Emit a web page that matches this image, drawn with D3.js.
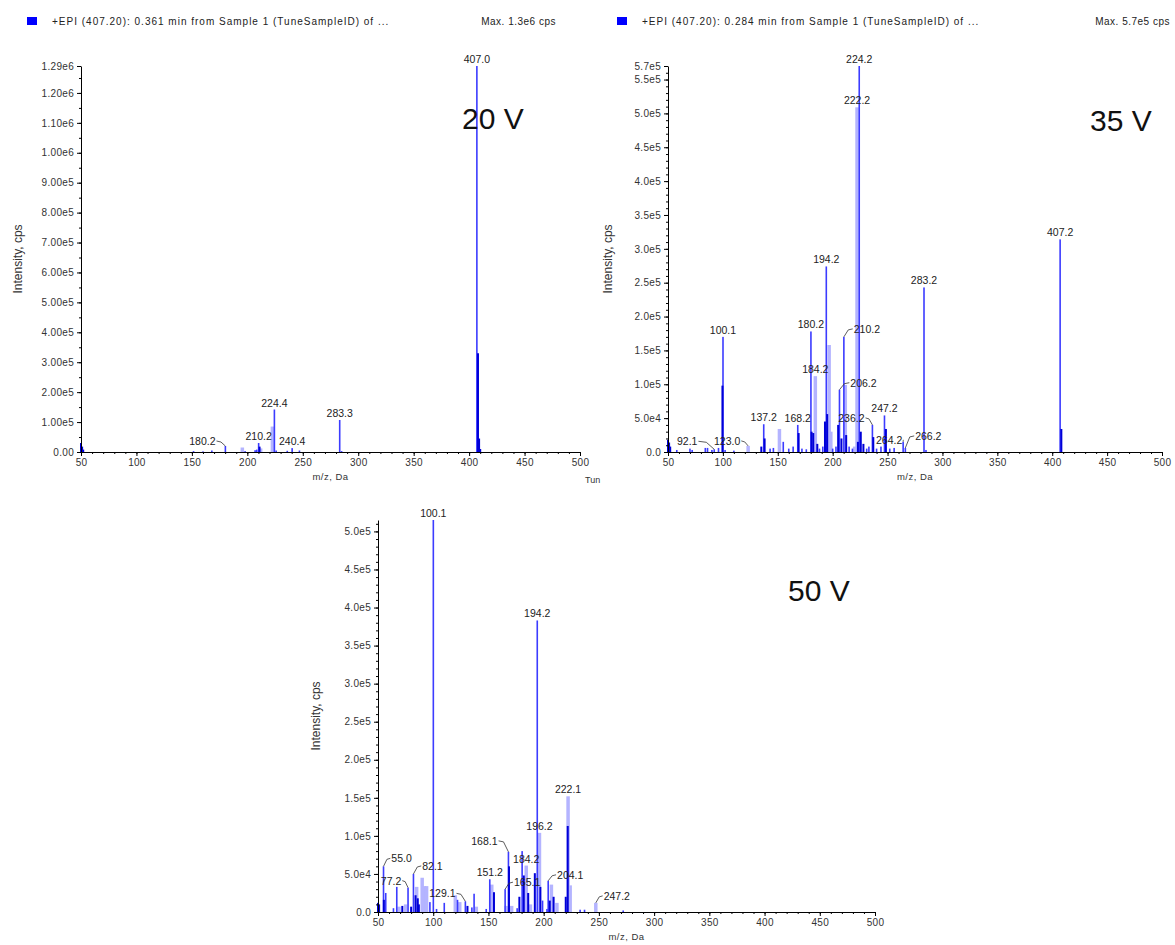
<!DOCTYPE html>
<html>
<head>
<meta charset="utf-8">
<script src="https://cdn.jsdelivr.net/npm/d3@7"></script>
<style>
  body { margin: 0; background: #fff; }
  svg text { font-family: "Liberation Sans", Arial, sans-serif; }
</style>
</head>
<body>
<svg id="chart" width="1175" height="945"></svg>
<script>
// ---- 20 V spectrum: [m/z, intensity]
let peaks20 = [[151.5,3000],[160,2000],[168,5000],[180.2,20000],[198,3000],[207,6000],[208.5,8000],[210.2,30000],
    [224.4,142000],[226,5000],[236,4000],[240.4,13000],[247,5000],[283.3,107000],[285,3000],[407.0,1290000]];
let light20 = [[195.5,15000],[212,12000],[222.6,85000]];
let dark20 = [[50,30000],[51,18000],[52,8000],[211,18000],[408,330000],[409,45000],[410,10000]];
let labels20 = ['407.0','224.4','283.3','210.2','180.2','240.4'];
let yTicks20 = [0,1e5,2e5,3e5,4e5,5e5,6e5,7e5,8e5,9e5,1e6,1.1e6,1.2e6,1.29e6];

// ---- 35 V spectrum
let peaks35 = [[58,3000],[70,5000],[72,3000],[84,6000],[86,6000],[90,3000],[92.1,4000],[96,6000],[100.1,170000],
    [102,3000],[110,2000],[137.2,41000],[143,5000],[146,6000],[155,15000],[160,5000],[164,8000],[168.2,40000],
    [172,5000],[176,4000],[180.2,178000],[188,5000],[191,8000],[194.2,274000],[200,5000],[203,8000],[206.2,92000],
    [210.2,170000],[215,8000],[218,5000],[224.2,570000],[231,5000],[233,8000],[236.2,40000],[240,5000],[244,8000],
    [247.2,54000],[252,5000],[256,6000],[264.2,15000],[266.2,6000],[283.2,243000],[285,3000],[407.2,314000]];
let light35 = [[123.0,9000],[151.5,34000],[184.2,112000],[196.8,158000],[198.3,30000],[211.5,99000],[220,8000],[222.2,509000]];
let dark35 = [[50,18000],[51,14000],[52,8000],[99.6,98000],[135,8000],[138,20000],[169,28000],[180.8,30000],
    [182.3,28000],[186,12000],[193,45000],[195,56000],[205,40000],[208,20000],[212.3,25000],[223,15000],
    [225.6,30000],[228,12000],[237,22000],[248.5,34000],[408.3,34000]];
let labels35 = ['224.2','222.2','194.2','180.2','210.2','184.2','206.2','100.1','137.2','168.2','236.2','247.2',
    '283.2','407.2','92.1','123.0','264.2','266.2'];
let yTicks35 = [0,5e4,1e5,1.5e5,2e5,2.5e5,3e5,3.5e5,4e5,4.5e5,5e5,5.5e5,5.7e5];

// ---- 50 V spectrum
let peaks50 = [[55.0,60000],[57,25000],[64,5000],[67,33000],[77.2,32000],[82.1,50000],[97,13000],[100.1,515000],
    [103,4000],[110,12000],[122,16000],[129.1,14000],[135,6000],[137,24000],[148,4000],[151.2,43000],[165.1,30000],
    [168.1,79000],[176,5000],[180.5,80000],[194.2,383000],[199,15000],[203,4000],[204.1,41000],[233,3000],[237,3000],[272,2000]];
let light50 = [[69,7000],[75,10000],[85,33000],[90,45000],[92,34000],[94,34000],[120,22000],[124,13000],[139,7000],
    [153,36000],[166,8000],[171,8000],[184.2,61000],[188,10000],[196.2,104000],[207,36000],[212,12000],
    [222.1,152000],[224,35000],[247.2,12000]];
let dark50 = [[50,12000],[51,10000],[55.3,16000],[72,8000],[80,7000],[84,22000],[86,18000],[87,10000],[131,8000],
    [155,26000],[168.6,60000],[178,20000],[182,48000],[186,25000],[192,51000],[197,33000],[205.5,15000],
    [209,20000],[220,20000],[221.8,113000]];
let labels50 = ['100.1','194.2','222.1','196.2','168.1','184.2','151.2','165.1','204.1','247.2','55.0','82.1','77.2','129.1'];
let yTicks50 = [0,5e4,1e5,1.5e5,2e5,2.5e5,3e5,3.5e5,4e5,4.5e5,5e5];

let xTicks = [50,100,150,200,250,300,350,400,450,500];

// label offsets (px) for labels drawn beside their peak with a leader line
let nudge20 = {'180.2':[-23,2]};
let nudge35 = {'210.2':[23,-1],'206.2':[24,0],'236.2':[-21,0],'92.1':[-27,-1],'123.0':[-21,2],'264.2':[-14,5],'266.2':[23,-5]};
let nudge50 = {'168.1':[-24,-4],'165.1':[22,0],'204.1':[22,1],'247.2':[21,0],'55.0':[18,-1],'82.1':[19,-1],'77.2':[-17,0],'129.1':[-23,-1]};

let panels = [
    {peaks: peaks20, light: light20, dark: dark20, labels: labels20, nudge: nudge20, yTicks: yTicks20, yMax: 1.29e6,
     yMinor: 5e4, digits: 2, x0: 81, x1: 580, yTop: 66, yBase: 452, yLabelX: 18, volt: '20 V', voltX: 462, voltY: 129,
     header: '+EPI (407.20): 0.361 min from Sample 1 (TuneSampleID) of ...', max: 'Max. 1.3e6 cps', hx: 27, maxX: 556},
    {peaks: peaks35, light: light35, dark: dark35, labels: labels35, nudge: nudge35, yTicks: yTicks35, yMax: 5.7e5,
     yMinor: 1e4, digits: 1, x0: 668, x1: 1162, yTop: 66, yBase: 452, yLabelX: 608, volt: '35 V', voltX: 1090, voltY: 131,
     header: '+EPI (407.20): 0.284 min from Sample 1 (TuneSampleID) of ...', max: 'Max. 5.7e5 cps', hx: 617, maxX: 1170},
    {peaks: peaks50, light: light50, dark: dark50, labels: labels50, nudge: nudge50, yTicks: yTicks50, yMax: 5.15e5,
     yMinor: 1e4, digits: 1, x0: 378, x1: 875, yTop: 520, yBase: 912, yLabelX: 316, volt: '50 V', voltX: 788, voltY: 601}
];

let svg = d3.select('#chart');

let fmtExp = function(v, digits){
    if(v === 0) return (0).toFixed(digits);
    let e = Math.floor(Math.log10(v) + 1e-9);
    return (v / Math.pow(10, e)).toFixed(digits) + 'e' + e;
}

let drawPanel = function(p){
    let xs = d3.scaleLinear().domain([50, 500]).range([p.x0, p.x1]);
    let ys = d3.scaleLinear().domain([0, p.yMax]).range([p.yBase, p.yTop]);
    let g = svg.append('g');

    // header line
    if(p.header){
        g.append('rect').attr('x', p.hx).attr('y', 17).attr('width', 10).attr('height', 8).attr('fill', '#0000ff');
        g.append('text').attr('x', p.hx + 25).attr('y', 25).attr('font-size', 10).attr('letter-spacing', 1)
            .attr('fill', '#222').text(p.header);
        g.append('text').attr('x', p.maxX).attr('y', 25).attr('font-size', 10).attr('letter-spacing', 0.5)
            .attr('fill', '#222').attr('text-anchor', 'end').text(p.max);
    }

    // peaks: light halos, main sticks, dark bases
    let bars = function(data, w, color){
        g.append('g').selectAll('rect')
            .data(data)
            .join('rect')
            .attr('x', d => xs(d[0]) - w / 2)
            .attr('y', d => ys(d[1]))
            .attr('width', w)
            .attr('height', d => p.yBase - ys(d[1]))
            .attr('fill', color);
    }
    bars(p.light, 3.5, '#b4b4ff');
    bars(p.peaks, 1.6, '#3c3cff');
    bars(p.dark, 2, '#0000d8');

    // axes
    let yMinorVals = d3.range(0, p.yMax + 1, p.yMinor);
    g.append('g').attr('transform', `translate(${p.x0},0)`)
        .call(d3.axisLeft(ys).tickValues(yMinorVals).tickSize(2).tickFormat(''))
        .call(a => a.select('.domain').remove());
    let yAx = g.append('g').attr('transform', `translate(${p.x0},0)`)
        .call(d3.axisLeft(ys).tickValues(p.yTicks).tickSize(4).tickSizeOuter(0).tickFormat(d => fmtExp(d, p.digits)));
    g.append('g').attr('transform', `translate(0,${p.yBase})`)
        .call(d3.axisBottom(xs).tickValues(d3.range(50, 501, 10)).tickSize(2).tickFormat(''))
        .call(a => a.select('.domain').remove());
    let xAx = g.append('g').attr('transform', `translate(0,${p.yBase})`)
        .call(d3.axisBottom(xs).tickValues(xTicks).tickSize(4).tickSizeOuter(0));
    g.selectAll('.tick line, .domain').attr('stroke', '#000');
    [yAx, xAx].forEach(a => a.selectAll('text')
        .attr('font-family', '"Liberation Sans", Arial, sans-serif').attr('font-size', 10)
        .attr('letter-spacing', 0.3).attr('fill', '#333'));

    // axis titles
    g.append('text')
        .attr('transform', `translate(${p.yLabelX + 4},${(p.yTop + p.yBase) / 2}) rotate(-90)`)
        .attr('text-anchor', 'middle').attr('font-size', 12).attr('fill', '#333')
        .text('Intensity, cps');
    g.append('text')
        .attr('x', (p.x0 + p.x1) / 2).attr('y', p.yBase + 28)
        .attr('text-anchor', 'middle').attr('font-size', 9.5).attr('letter-spacing', 0.5).attr('fill', '#333')
        .text('m/z, Da');

    // peak labels
    let all = p.peaks.concat(p.light, p.dark);
    p.labels.forEach(function(t){
        let mz = +t;
        let v = d3.max(all.filter(d => Math.abs(d[0] - mz) < 0.35), d => d[1]);
        let bx = xs(mz), by = ys(v);
        let off = p.nudge[t] || [0, 0];
        let lx = bx + off[0], ly = by - 3 + off[1];
        let txt = g.append('text').attr('x', lx).attr('y', ly)
            .attr('text-anchor', 'middle').attr('font-size', 10.5).attr('fill', '#222')
            .text(t);
        if(p.nudge[t]){
            let w = txt.node().getComputedTextLength();
            let ex = off[0] < 0 ? lx + w / 2 + 1 : lx - w / 2 - 1;
            g.append('path')
                .attr('d', `M${ex},${ly - 4} L${(ex + bx) / 2},${ly - 3} L${bx},${by}`)
                .attr('fill', 'none').attr('stroke', '#333').attr('stroke-width', 0.8);
        }
    });

    // collision energy
    g.append('text').attr('x', p.voltX).attr('y', p.voltY)
        .attr('font-size', 30).attr('fill', '#111').text(p.volt);
}

panels.forEach(drawPanel);

// clipped caption fragment at the right of the first panel
svg.append('text').attr('x', 585).attr('y', 483).attr('font-size', 9).attr('fill', '#333').text('Tun');
</script>
</body>
</html>
